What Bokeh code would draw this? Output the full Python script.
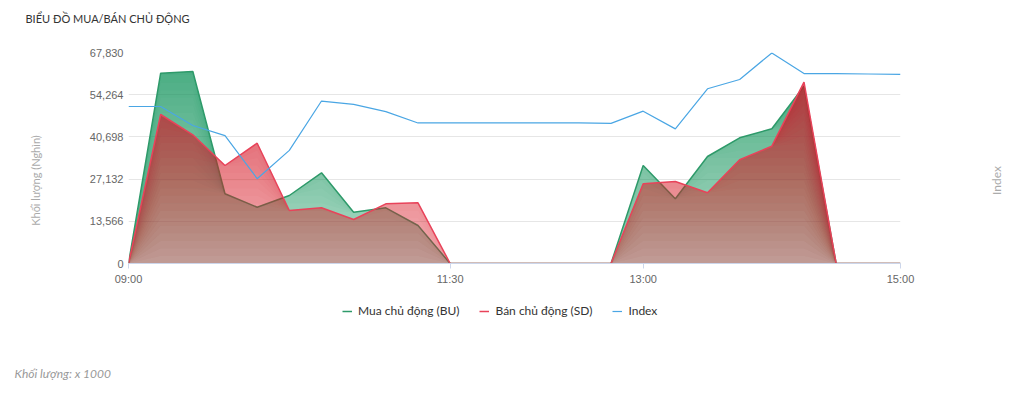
from bokeh.plotting import figure
from bokeh.layouts import column, row
from bokeh.models import (Range1d, FixedTicker, NumeralTickFormatter,
                          Legend, LegendItem, ColumnDataSource, Label)
from bokeh.embed import file_html
from bokeh.resources import INLINE

# ---------------- data ----------------
times = ["09:00", "09:15", "09:30", "09:45", "10:00", "10:15", "10:30", "10:45",
         "11:00", "11:15", "11:30", "11:45", "12:00", "12:15", "12:30", "12:45",
         "13:00", "13:15", "13:30", "13:45", "14:00", "14:15", "14:30", "14:45",
         "15:00"]
buy_bu = [0, 61176, 61722, 22406, 18099, 21860, 29157, 16491,
          17906, 12216, 0, 0, 0, 0, 0, 0,
          31504, 20799, 34397, 40409, 43302, 57000, 0, 0, 0]
sell_sd = [0, 47899, 41373, 31504, 38673, 17038, 17906, 14145,
           19192, 19513, 0, 0, 0, 0, 0, 0,
           25621, 26361, 22728, 33337, 37708, 58300, 0, 0, 0]
index_vals = [1237.2, 1237.2, 1232.7, 1230.3, 1220.1, 1226.8, 1238.5, 1237.7,
              1236.0, 1233.3, 1233.3, 1233.3, 1233.3, 1233.3, 1233.3, 1233.2,
              1236.1, 1231.9, 1241.4, 1243.6, 1249.9, 1245.0, 1245.0, 1244.9,
              1244.8]
x_tick_labels = ["09:00", "11:30", "13:00", "15:00"]
y_ticks = [0, 13566, 27132, 40698, 54264, 67830]
series_names = ["Mua chủ động (BU)", "Bán chủ động (SD)", "Index"]
title_text = "BIỂU ĐỒ MUA/BÁN CHỦ ĐỘNG"
y_label = "Khối lượng (Nghìn)"
right_label = "Index"
footer_text = "Khối lượng: x 1000"

GREEN_LINE, RED_LINE, BLUE_LINE = "#2e9a6a", "#e8435a", "#4aa6e4"


def to_min(t):
    h, m = t.split(":")
    return (int(h) - 9) * 60 + int(m)


YMAX = y_ticks[-1]
xs = [to_min(t) for t in times]
data = dict(x=xs, bu=buy_bu, sd=sell_sd, idx=index_vals)

# gradient layers (opacity grows toward the top of the axis)
N_LAYERS = 28
levels = [YMAX * k / N_LAYERS for k in range(N_LAYERS)]
for k, lv in enumerate(levels):
    data[f"bu_l{k}"] = [min(v, lv) for v in buy_bu]
    data[f"sd_l{k}"] = [min(v, lv) for v in sell_sd]
src = ColumnDataSource(data)


def step_alphas(a_bottom, a_top):
    targets = [a_bottom + (a_top - a_bottom) * k / (N_LAYERS - 1) for k in range(N_LAYERS)]
    out = [targets[0]]
    for k in range(1, N_LAYERS):
        out.append(1 - (1 - targets[k]) / (1 - targets[k - 1]))
    return out


FONT = "Lato"
TICK_FONT = "Liberation Sans"

# layout sizes (page pixels)
W_L, W_P, W_R = 80, 880, 48
H_T, H_P, H_B = 30, 263, 93


def strip(w, h, xr=None):
    f = figure(width=w, height=h, output_backend="svg", toolbar_location=None,
               x_range=xr if xr is not None else Range1d(0, w), y_range=Range1d(0, h),
               x_axis_location=None, y_axis_location=None,
               min_border=0, min_border_left=0, min_border_right=0,
               min_border_top=0, min_border_bottom=0)
    f.outline_line_color = None
    f.xgrid.grid_line_color = None
    f.ygrid.grid_line_color = None
    f.frame_align = False
    return f


# ---------------- main chart ----------------
p = figure(width=W_P, height=H_P, output_backend="svg", toolbar_location=None,
           x_range=Range1d(0, 360), y_range=Range1d(0, YMAX),
           min_border_left=48, min_border_right=60,
           min_border_top=22, min_border_bottom=30)
p.frame_align = False
p.extra_y_ranges = {"idx": Range1d(1200, 1250)}
p.outline_line_color = None

p.yaxis.ticker = FixedTicker(ticks=y_ticks)
p.yaxis.formatter = NumeralTickFormatter(format="0,0")
p.yaxis.axis_line_color = None
p.yaxis.major_tick_line_color = None
p.yaxis.minor_tick_line_color = None
p.yaxis.major_tick_out = 0
p.yaxis.major_tick_in = 0
p.yaxis.major_label_standoff = 5
p.yaxis.major_label_text_font = TICK_FONT
p.yaxis.major_label_text_font_size = "11px"
p.yaxis.major_label_text_color = "#666666"

p.xaxis.ticker = FixedTicker(ticks=[to_min(t) for t in x_tick_labels])
p.xaxis.major_label_overrides = {to_min(t): t for t in x_tick_labels}
p.xaxis.axis_line_color = "#ccd6eb"
p.xaxis.major_tick_line_color = "#ccd6eb"
p.xaxis.major_tick_in = 0
p.xaxis.major_tick_out = 5
p.xaxis.minor_tick_line_color = None
p.xaxis.major_label_standoff = 4
p.xaxis.major_label_text_font = TICK_FONT
p.xaxis.major_label_text_font_size = "11px"
p.xaxis.major_label_text_color = "#666666"

p.xgrid.grid_line_color = None
p.ygrid.grid_line_color = "#e6e6e6"

# areas (green first, red on top)
for k, a in enumerate(step_alphas(0.36, 0.84)):
    p.varea(x="x", y1=f"bu_l{k}", y2="bu", source=src,
            fill_color="#28a06c", fill_alpha=a)
p.line(x="x", y="bu", source=src, line_color=GREEN_LINE, line_width=1.5)
for k, a in enumerate(step_alphas(0.34, 0.78)):
    p.varea(x="x", y1=f"sd_l{k}", y2="sd", source=src,
            fill_color="#e0192d", fill_alpha=a)
p.line(x="x", y="sd", source=src, line_color=RED_LINE, line_width=1.5)
p.line(x="x", y="idx", source=src, y_range_name="idx",
       line_color=BLUE_LINE, line_width=1.2)

# ---------------- title strip ----------------
top = strip(W_L + W_P + W_R, H_T)
top.add_layout(Label(x=25, y=12, x_units="screen", y_units="screen",
                     text=title_text, text_font=FONT, text_font_size="11px",
                     text_color="#333333", text_baseline="middle", text_align="left"))

# ---------------- side strips (axis titles) ----------------
left = strip(W_L, H_P)
left.add_layout(Label(x=35, y=H_P - (180 - H_T), x_units="screen", y_units="screen",
                      text=y_label, text_font=FONT, text_font_size="11px",
                      text_color="#aaaaaa", angle=1.5708,
                      text_baseline="middle", text_align="center"))
right = strip(W_R, H_P)
right.add_layout(Label(x=996 - W_L - W_P, y=H_P - (180 - H_T), x_units="screen",
                       y_units="screen", text=right_label, text_font=FONT,
                       text_font_size="12px", text_color="#aaaaaa", angle=1.5708,
                       text_baseline="middle", text_align="center"))

# ---------------- legend / footer strip ----------------
bottom = strip(W_L + W_P + W_R, H_B, xr=Range1d(-5000, -5000 + W_L + W_P + W_R))
g1 = bottom.line(x="x", y="bu", source=src, line_color=GREEN_LINE, line_width=1.5)
g2 = bottom.line(x="x", y="sd", source=src, line_color=RED_LINE, line_width=1.5)
g3 = bottom.line(x="x", y="idx", source=src, line_color=BLUE_LINE, line_width=1.2)
legend = Legend(items=[LegendItem(label=series_names[0], renderers=[g1]),
                       LegendItem(label=series_names[1], renderers=[g2]),
                       LegendItem(label=series_names[2], renderers=[g3])],
                orientation="horizontal", location=(342, 68),
                padding=0, margin=0, spacing=20, label_standoff=6,
                glyph_width=10, glyph_height=14, label_height=14,
                label_text_font=FONT, label_text_font_size="12px",
                label_text_color="#333333",
                border_line_color=None, background_fill_alpha=0)
bottom.add_layout(legend, "center")
bottom.add_layout(Label(x=14, y=13, x_units="screen", y_units="screen",
                        text=footer_text, text_font=FONT, text_font_size="12px",
                        text_font_style="italic", text_color="#999999",
                        text_baseline="middle", text_align="left"))

page = column(top, row(left, p, right, spacing=0), bottom, spacing=0)
open("out.html", "w").write(file_html(page, INLINE))
